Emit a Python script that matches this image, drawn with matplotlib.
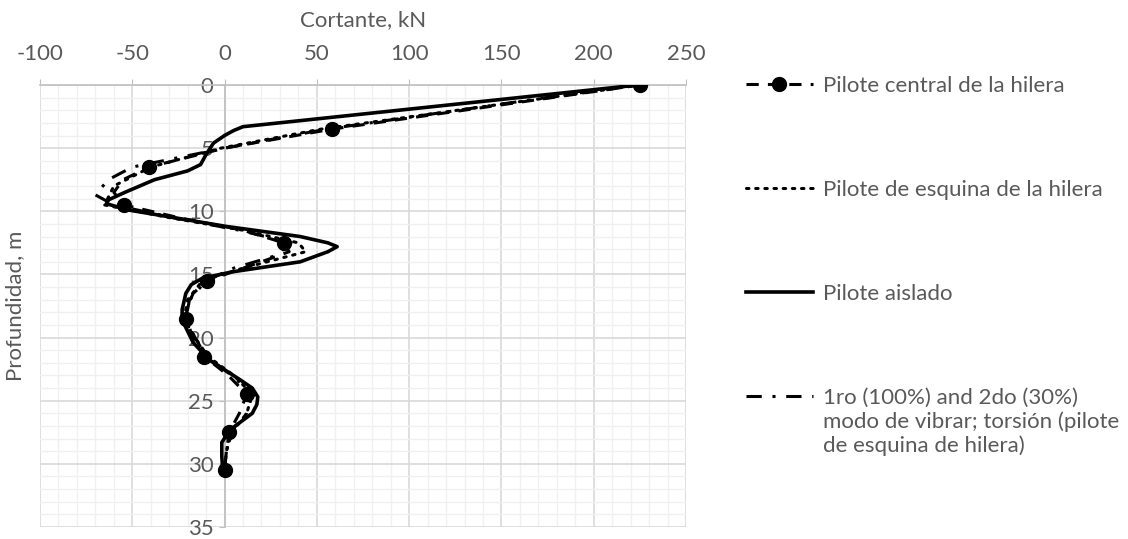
import matplotlib
matplotlib.use("Agg")
from matplotlib import pyplot as plt
from matplotlib.ticker import MultipleLocator

plt.rcParams['font.family'] = ['Lato', 'DejaVu Sans']
plt.rcParams['axes.unicode_minus'] = False

# Pilote central de la hilera (markers every 3 m)
depth_central = [0, 3.5, 5, 6.5, 7.5, 8.5, 9.5, 10.5, 11.5, 12.5, 13.2, 14,
                 15.5, 16.5, 17.5, 18.5, 20, 21.5, 23, 24.5, 26, 27.5, 29, 30.5]
shear_central = [225, 58, 0, -41, -55, -60, -54.5, -25, 10, 32, 35, 20,
                 -9.5, -17, -20, -21, -17, -11, 2, 12, 8, 2.5, 1, 0]
marker_idx = [0, 1, 3, 6, 9, 12, 15, 17, 19, 21, 23]

# Pilote de esquina de la hilera
depth_corner = [0, 3.5, 5, 6.5, 8, 9.5, 10.5, 11.5, 12.5, 13.2, 14.5, 15.5,
                17, 18.5, 20, 21.5, 23, 24.5, 26, 27.5, 29, 30.5]
shear_corner = [225, 52, -2, -40, -60, -65, -30, 10, 40, 44, 10, -12,
                -20, -22, -16, -9, 5, 15, 12, 4, 1, 0]

# Pilote aislado
depth_isolated = [0, 3.3, 3.6, 4.0, 4.6, 5.5, 6.3, 6.8, 7.5, 8.5, 9.1, 9.4,
                  9.9, 11.2, 12.0, 12.5, 12.8, 13.2, 14.0, 14.8, 15.3, 15.8,
                  16.5, 17.8, 18.6, 20.4, 21.8, 23.3, 24.0, 24.7, 25.3, 26.0,
                  27.3, 28.3, 29.4, 30.5]
shear_isolated = [224, 10, 5, 0, -6, -10, -13, -20, -38, -54, -63, -64,
                  -52, 1, 41, 56, 61, 56, 41, 4, -12, -18,
                  -21, -23, -23, -17, -8, 8, 15, 18, 17.5, 15,
                  3, -1.5, -1.5, -1]

# 1ro (100%) and 2do (30%) modo de vibrar; torsión
depth_modes = [0, 3.5, 5, 6.5, 7.5, 8.7, 9.5, 10.5, 11.5, 12.5, 13.5, 14.5,
               15.5, 17, 18.5, 20, 21.5, 23, 24.5, 26, 27.5, 29, 30.5]
shear_modes = [222, 55, 0, -50, -63, -70, -60, -28, 8, 36, 28, 5,
               -10, -19, -21, -16, -10, 4, 15, 12, 3, 1, 0]

labels = ["Pilote central de la hilera",
          "Pilote de esquina de la hilera",
          "Pilote aislado",
          "1ro (100%) and 2do (30%)"]
label_rest = "modo de vibrar; torsión (pilote\nde esquina de hilera)"

grey = "#595959"
fs = 16
fig = plt.figure(figsize=(11.28, 5.39), dpi=100)
ax = fig.add_axes([40 / 1128, 1 - 527 / 539, 646 / 1128, 442 / 539])

ax.plot(shear_central, depth_central, color="black", lw=2.2, ls=(0, (4, 3)),
        marker="o", ms=10, markevery=marker_idx, label=labels[0], zorder=5)
ax.plot(shear_corner, depth_corner, color="black", lw=2.2, ls=(0, (0.8, 2.2)),
        dash_capstyle="round", label=labels[1], zorder=4)
ax.plot(shear_isolated, depth_isolated, color="black", lw=2.6, ls="-",
        label=labels[2], zorder=3)
ax.plot(shear_modes, depth_modes, color="black", lw=2.2,
        ls=(0, (5, 3.5, 1, 3.5)), label=labels[3], zorder=4)

ax.set_xlim(-100, 250)
ax.set_ylim(35, 0)
ax.xaxis.set_major_locator(MultipleLocator(50))
ax.xaxis.set_minor_locator(MultipleLocator(10))
ax.yaxis.set_major_locator(MultipleLocator(5))
ax.yaxis.set_minor_locator(MultipleLocator(1))
ax.grid(which="major", color="#d9d9d9", lw=1.2, zorder=0)
ax.grid(which="minor", color="#f0f0f0", lw=1.0, zorder=0)
ax.set_axisbelow(True)

ax.xaxis.tick_top()
ax.xaxis.set_label_position("top")
ax.spines["left"].set_position(("data", 0))
for s in ["bottom", "right"]:
    ax.spines[s].set_visible(False)
for s in ["top", "left"]:
    ax.spines[s].set_color("#bfbfbf")
    ax.spines[s].set_linewidth(1.2)
ax.tick_params(which="major", length=4, color="#bfbfbf", labelcolor=grey,
               labelsize=fs)
ax.tick_params(which="minor", length=0)
ax.tick_params(axis="x", pad=11)
ax.tick_params(axis="y", pad=4)

ax.set_xlabel("Cortante, kN", fontsize=fs, color=grey, labelpad=13)
ax.set_ylabel("Profundidad, m", fontsize=fs, color=grey)
ax.yaxis.set_label_coords(-0.023, 0.5)

leg = ax.legend(loc="upper left", bbox_to_anchor=(746 / 1128, 1 - 76 / 539),
                bbox_transform=fig.transFigure, frameon=False, fontsize=fs,
                handlelength=3.0, handletextpad=0.45, labelspacing=3.78,
                borderpad=0, borderaxespad=0)
for t in leg.get_texts():
    t.set_color(grey)

# continuation lines of the last legend label, under its first line
fig.canvas.draw()
bb = leg.get_texts()[3].get_window_extent()
fig.text(bb.x0 / fig.bbox.width, (bb.y0 - 3) / fig.bbox.height, label_rest,
         fontsize=fs, color=grey, ha="left", va="top", linespacing=1.25)

fig.savefig("out.png", dpi=100)
